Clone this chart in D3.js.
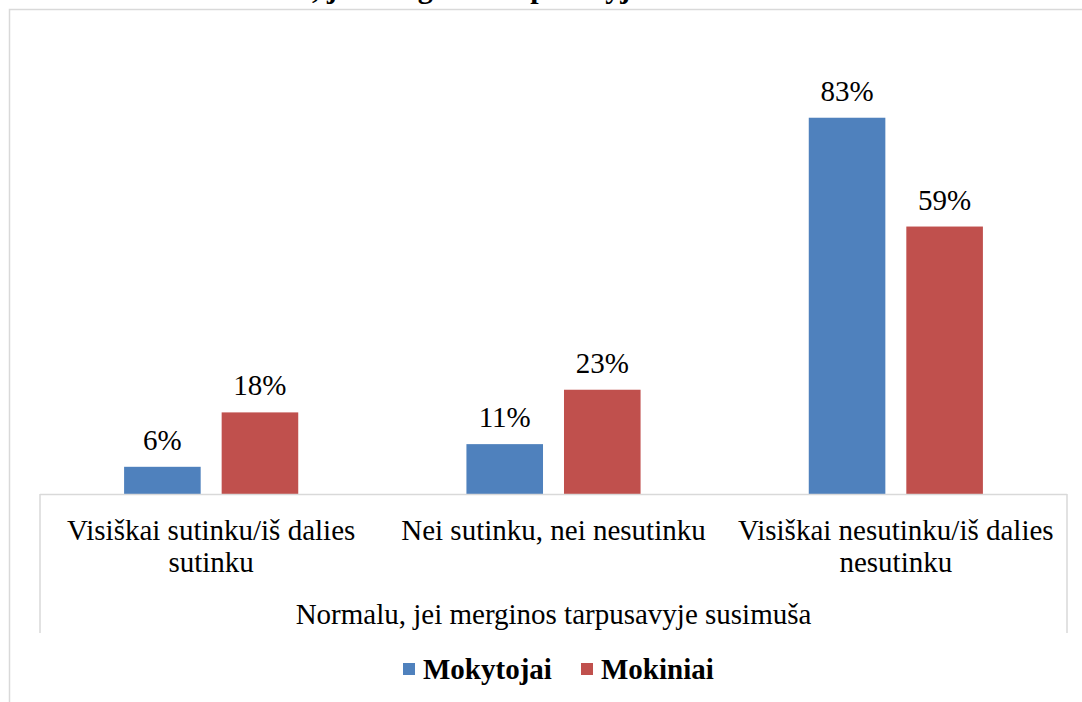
<!DOCTYPE html>
<meta charset="utf-8">
<head>
<script src="https://d3js.org/d3.v7.min.js"></script>
<style>
  body { margin: 0; background: #fff; }
  text { font-family: "Liberation Serif", "Times New Roman", serif; fill: #000; }
</style>
</head>
<body>
<div id="my_dataviz"></div>
<script>

// data
var chartTitle = "Normalu, jei merginos tarpusavyje susimuša";
var axisTitle = "Normalu, jei merginos tarpusavyje susimuša";
var categories = ["Visiškai sutinku/iš dalies sutinku", "Nei sutinku, nei nesutinku", "Visiškai nesutinku/iš dalies nesutinku"];
var seriesNames = ["Mokytojai", "Mokiniai"];
var mokytojai = [6, 11, 83];
var mokiniai = [18, 23, 59];
var colors = ["#4f81bd", "#c0504d"];

var W = 1082, H = 702;
var plot = {left: 40, right: 1067, top: 86, bottom: 494};

var svg = d3.select("#my_dataviz")
  .append("svg")
    .attr("width", W)
    .attr("height", H);

// outer chart border (runs off the right and bottom edges)
svg.append("rect")
  .attr("x", 9.5).attr("y", 9.5)
  .attr("width", W + 20).attr("height", H + 20)
  .attr("fill", "#fff")
  .attr("stroke", "#d9d9d9")
  .attr("stroke-width", 1.5);

// title, mostly cropped off the top like in the source image
svg.append("text")
  .attr("x", 197).attr("y", -2.5)
  .style("font-size", "30px")
  .style("font-weight", "bold")
  .text(chartTitle);

var x = d3.scaleBand()
  .domain(categories)
  .range([plot.left, plot.right])
  .padding(0);

var xSub = d3.scaleBand()
  .domain(seriesNames)
  .range([0, x.bandwidth()])
  .paddingInner(0.215)
  .paddingOuter(0.862);

var y = d3.scaleLinear()
  .domain([0, 90])
  .range([plot.bottom, plot.top]);

var rows = categories.map(function(c, i) {
  return {cat: c, values: [mokytojai[i], mokiniai[i]]};
});

var groups = svg.selectAll(".grp")
  .data(rows)
  .enter().append("g")
    .attr("class", "grp")
    .attr("transform", function(d) { return "translate(" + x(d.cat) + ",0)"; });

groups.selectAll("rect")
  .data(function(d) { return d.values.map(function(v, j) { return {s: seriesNames[j], v: v, j: j}; }); })
  .enter().append("rect")
    .attr("x", function(d) { return xSub(d.s); })
    .attr("y", function(d) { return y(d.v); })
    .attr("width", xSub.bandwidth())
    .attr("height", function(d) { return plot.bottom - y(d.v); })
    .attr("fill", function(d) { return colors[d.j]; });

groups.selectAll(".lbl")
  .data(function(d) { return d.values.map(function(v, j) { return {s: seriesNames[j], v: v}; }); })
  .enter().append("text")
    .attr("class", "lbl")
    .attr("x", function(d) { return xSub(d.s) + xSub.bandwidth() / 2; })
    .attr("y", function(d) { return y(d.v) - 17; })
    .attr("text-anchor", "middle")
    .style("font-size", "29px")
    .text(function(d) { return d.v + "%"; });

// category axis frame
var frame = svg.append("g")
  .attr("stroke", "#d9d9d9")
  .attr("stroke-width", 1.5)
  .attr("fill", "none");
frame.append("line").attr("x1", plot.left).attr("x2", plot.right).attr("y1", plot.bottom + 0.5).attr("y2", plot.bottom + 0.5);
frame.append("line").attr("x1", plot.left).attr("x2", plot.left).attr("y1", plot.bottom).attr("y2", 633);
frame.append("line").attr("x1", plot.right).attr("x2", plot.right).attr("y1", plot.bottom).attr("y2", 633);

// category labels, wrapped to the band width
var catText = svg.selectAll(".cat")
  .data(categories)
  .enter().append("text")
    .attr("class", "cat")
    .attr("x", function(d) { return x(d) + x.bandwidth() / 2; })
    .attr("y", 540)
    .attr("text-anchor", "middle")
    .style("font-size", "29px")
    .each(function(d) {
      var el = d3.select(this), words = d.split(" "), line = [];
      var tspan = el.append("tspan").attr("x", el.attr("x")).attr("dy", 0);
      words.forEach(function(w) {
        line.push(w);
        tspan.text(line.join(" "));
        if (tspan.node().getComputedTextLength() > x.bandwidth() - 12 && line.length > 1) {
          line.pop();
          tspan.text(line.join(" "));
          line = [w];
          tspan = el.append("tspan").attr("x", el.attr("x")).attr("dy", 32).text(w);
        }
      });
    });

svg.append("text")
  .attr("x", (plot.left + plot.right) / 2)
  .attr("y", 624)
  .attr("text-anchor", "middle")
  .style("font-size", "29px")
  .text(axisTitle);

// legend
var legendX = [403, 581];
var legend = svg.selectAll(".leg")
  .data(seriesNames)
  .enter().append("g")
    .attr("class", "leg")
    .attr("transform", function(d, i) { return "translate(" + legendX[i] + ",663)"; });
legend.append("rect")
  .attr("width", 12).attr("height", 12)
  .attr("fill", function(d, i) { return colors[i]; });
legend.append("text")
  .attr("x", 20).attr("y", 16)
  .style("font-size", "29px")
  .style("font-weight", "bold")
  .text(function(d) { return d; });

</script>
</body>
</html>
